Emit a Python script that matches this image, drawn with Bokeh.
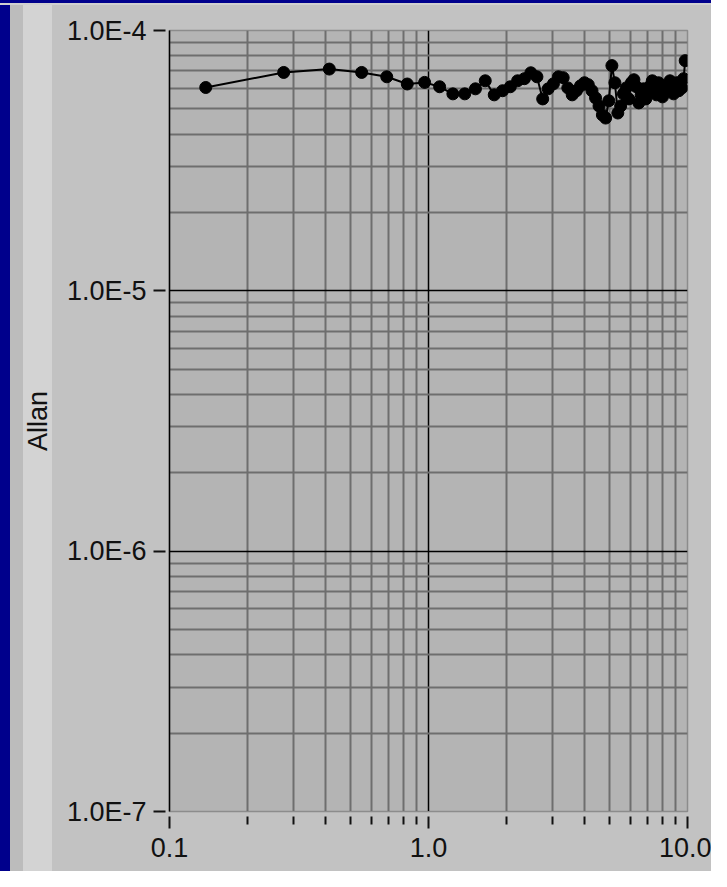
from bokeh.plotting import figure
from bokeh.models import FixedTicker, CustomJSTickFormatter, Range1d, ColumnDataSource
from bokeh.embed import file_html
from bokeh.resources import INLINE

# ---- data ----
tau = [0.138, 0.276, 0.414, 0.552, 0.690, 0.828, 0.966, 1.104, 1.242, 1.380,
       1.518, 1.656, 1.794, 1.932, 2.070, 2.208, 2.346, 2.484, 2.622, 2.760,
       2.898, 3.036, 3.174, 3.312, 3.450, 3.588, 3.726, 3.864, 4.002, 4.140,
       4.278, 4.416, 4.554, 4.692, 4.830, 4.968, 5.106, 5.244, 5.382, 5.520,
       5.658, 5.796, 5.934, 6.072, 6.210, 6.348, 6.486, 6.624, 6.762, 6.900,
       7.038, 7.176, 7.314, 7.452, 7.590, 7.728, 7.866, 8.004, 8.142, 8.280,
       8.418, 8.556, 8.694, 8.832, 8.970, 9.108, 9.246, 9.384, 9.522, 9.660,
       9.798]
allan = [6.04e-5, 6.90e-5, 7.11e-5, 6.90e-5, 6.64e-5, 6.23e-5, 6.32e-5, 6.08e-5, 5.71e-5, 5.71e-5,
         5.97e-5, 6.41e-5, 5.66e-5, 5.87e-5, 6.08e-5, 6.41e-5, 6.53e-5, 6.88e-5, 6.64e-5, 5.46e-5,
         5.97e-5, 6.24e-5, 6.64e-5, 6.59e-5, 6.02e-5, 5.66e-5, 5.87e-5, 6.13e-5, 6.30e-5, 6.19e-5,
         5.87e-5, 5.51e-5, 5.13e-5, 4.74e-5, 4.61e-5, 5.37e-5, 7.33e-5, 6.30e-5, 4.82e-5, 5.13e-5,
         5.71e-5, 6.02e-5, 5.46e-5, 6.30e-5, 6.47e-5, 6.08e-5, 5.27e-5, 5.66e-5, 5.97e-5, 5.46e-5,
         5.76e-5, 6.13e-5, 6.41e-5, 5.87e-5, 5.66e-5, 6.30e-5, 5.97e-5, 5.56e-5, 6.08e-5, 5.87e-5,
         6.19e-5, 6.41e-5, 6.08e-5, 5.71e-5, 5.97e-5, 6.30e-5, 5.87e-5, 6.13e-5, 6.02e-5, 6.53e-5,
         7.66e-5]

x_major = [0.1, 1.0, 10.0]
x_minor = [0.2, 0.3, 0.4, 0.5, 0.6, 0.7, 0.8, 0.9, 2, 3, 4, 5, 6, 7, 8, 9]
y_major = [1e-7, 1e-6, 1e-5, 1e-4]
y_minor = [2e-7, 3e-7, 4e-7, 5e-7, 6e-7, 7e-7, 8e-7, 9e-7,
           2e-6, 3e-6, 4e-6, 5e-6, 6e-6, 7e-6, 8e-6, 9e-6,
           2e-5, 3e-5, 4e-5, 5e-5, 6e-5, 7e-5, 8e-5, 9e-5]
y_label = "Allan"

FONT = "Liberation Sans"
BLUE = "#00008c"

p = figure(width=711, height=871, x_axis_type="log", y_axis_type="log",
           x_range=Range1d(0.1, 10.0), y_range=Range1d(1e-7, 1e-4),
           output_backend="svg", toolbar_location=None,
           min_border_left=169, min_border_right=24, min_border_top=30, min_border_bottom=60,
           styles={"background": (
               f"linear-gradient(to bottom, {BLUE} 0px, {BLUE} 3px, #d0d0d0 3px, #d0d0d0 5px, transparent 5px), "
               f"linear-gradient(to right, {BLUE} 0px, {BLUE} 10px, #bcbcbc 10px, #bcbcbc 23px, "
               "#d3d3d3 23px, #d3d3d3 52px, #c2c2c2 52px)")})
p.border_fill_alpha = 0
p.background_fill_color = "#b4b4b4"
p.outline_line_color = "#8c8c8c"
p.outline_line_width = 1.5

# grids
p.xgrid.ticker = FixedTicker(ticks=[1.0], minor_ticks=x_minor)
p.ygrid.ticker = FixedTicker(ticks=[1e-6, 1e-5, 1e-4], minor_ticks=y_minor)
for g in (p.xgrid, p.ygrid):
    g.grid_line_color = "#000000"
    g.grid_line_width = 1.5
    g.minor_grid_line_color = "#6e6e6e"
    g.minor_grid_line_width = 2

# x axis
xa = p.xaxis[0]
xa.ticker = FixedTicker(ticks=x_major, minor_ticks=x_minor)
xa.formatter = CustomJSTickFormatter(code="return tick.toFixed(1);")
xa.axis_line_color = "#8c8c8c"
xa.major_tick_in = -5
xa.major_tick_out = 17
xa.minor_tick_in = -5
xa.minor_tick_out = 13
xa.major_tick_line_width = 2
xa.minor_tick_line_width = 2
xa.major_tick_line_color = "#111111"
xa.minor_tick_line_color = "#111111"
xa.major_label_standoff = 9

# y axis
ya = p.yaxis[0]
ya.ticker = FixedTicker(ticks=y_major, minor_ticks=[])
ya.formatter = CustomJSTickFormatter(code="return tick.toExponential(1).toUpperCase();")
ya.axis_line_color = "#000000"
ya.axis_line_width = 1.5
ya.major_tick_in = -4
ya.major_tick_out = 16
ya.major_tick_line_width = 2
ya.major_tick_line_color = "#111111"
ya.minor_tick_out = 0
ya.minor_tick_in = 0
ya.major_label_standoff = 7
ya.axis_label = y_label
ya.axis_label_standoff = 11

for ax in (xa, ya):
    ax.major_label_text_font = FONT
    ax.major_label_text_font_size = "27px"
    ax.major_label_text_color = "#111111"
    ax.axis_label_text_font = FONT
    ax.axis_label_text_font_size = "27px"
    ax.axis_label_text_font_style = "normal"
    ax.axis_label_text_color = "#111111"

src = ColumnDataSource(dict(x=tau, y=allan))
p.line("x", "y", source=src, line_color="#000000", line_width=2)
p.scatter("x", "y", source=src, size=12, marker="circle", fill_color="#000000", line_color="#000000")

open("out.html", "w").write(file_html(p, INLINE))
